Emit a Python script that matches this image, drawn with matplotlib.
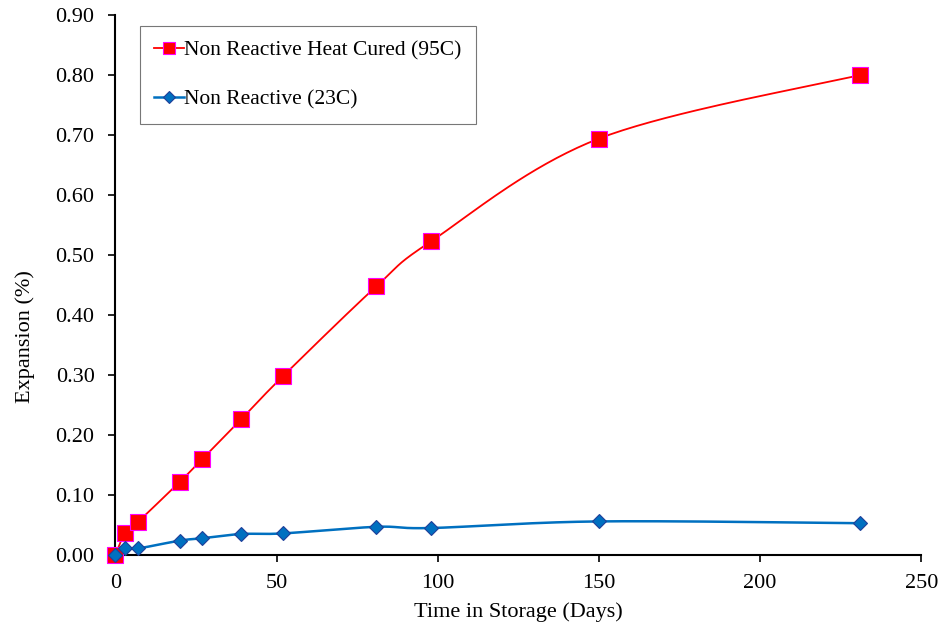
import numpy as np
import matplotlib.pyplot as plt

# data
days = [0, 3, 7, 20, 27, 39, 52, 81, 98, 150, 231]
heat_cured_95c = [0.000, 0.036, 0.055, 0.122, 0.160, 0.226, 0.298, 0.448, 0.523, 0.694, 0.800]
ambient_23c = [0.000, 0.012, 0.011, 0.024, 0.028, 0.035, 0.036, 0.047, 0.045, 0.056, 0.053]

labels = ['Non Reactive Heat Cured (95C)', 'Non Reactive (23C)']


def smooth(x, y, n=40):
    # Catmull-Rom style bezier, similar to a spreadsheet "smoothed line"
    x = np.asarray(x, float)
    y = np.asarray(y, float)
    px = np.concatenate([[x[0]], x, [x[-1]]])
    py = np.concatenate([[y[0]], y, [y[-1]]])
    xs, ys = [], []
    t = np.linspace(0, 1, n)
    for i in range(1, len(px) - 2):
        p0 = np.array([px[i], py[i]])
        p3 = np.array([px[i + 1], py[i + 1]])
        p1 = p0 + (np.array([px[i + 1], py[i + 1]]) - np.array([px[i - 1], py[i - 1]])) / 6
        p2 = p3 - (np.array([px[i + 2], py[i + 2]]) - np.array([px[i], py[i]])) / 6
        b = ((1 - t) ** 3)[:, None] * p0 + (3 * (1 - t) ** 2 * t)[:, None] * p1 \
            + (3 * (1 - t) * t ** 2)[:, None] * p2 + (t ** 3)[:, None] * p3
        xs.extend(b[:, 0])
        ys.extend(b[:, 1])
    return np.array(xs), np.array(ys)


plt.rcParams['font.family'] = 'Liberation Serif'

fig = plt.figure(figsize=(9.4, 6.26), dpi=100)
ax = fig.add_axes([0.1227, 0.1134, 0.8573, 0.8626])

red = '#FF0000'
blue = '#0070C0'

sx, sy = smooth(days, heat_cured_95c)
ax.plot(sx, sy, color=red, lw=1.3, zorder=2, clip_on=False)
ax.plot(days, heat_cured_95c, ls='none', marker='s', ms=11.5, mfc=red,
        mec='#FF00FF', mew=0.8, zorder=3, clip_on=False)

sx, sy = smooth(days, ambient_23c)
ax.plot(sx, sy, color=blue, lw=1.8, zorder=2, clip_on=False)
ax.plot(days, ambient_23c, ls='none', marker='D', ms=7, mfc=blue,
        mec='#1F3F99', mew=0.8, zorder=3, clip_on=False)

# legend proxies (line through marker)
h1, = ax.plot([], [], color=red, lw=1.3, marker='s', ms=9, mfc=red, mec='#FF00FF', mew=0.8)
h2, = ax.plot([], [], color=blue, lw=1.8, marker='D', ms=6.5, mfc=blue, mec='#1F3F99', mew=0.8)
leg = ax.legend([h1, h2], labels, loc='upper left', bbox_to_anchor=(0.031, 0.979),
                fontsize=15.5, frameon=True, fancybox=False, edgecolor='#555555',
                handlelength=1.4, handletextpad=0.0, labelspacing=1.35,
                borderpad=0.65, borderaxespad=0)
leg.get_frame().set_linewidth(0.8)

ax.set_xlim(0, 250)
ax.set_ylim(0, 0.9)
ax.set_xticks(np.arange(0, 251, 50))
ax.set_yticks(np.arange(0, 0.91, 0.1))
ax.yaxis.set_major_formatter(plt.FormatStrFormatter('%.2f'))
ax.tick_params(direction='out', length=5, width=1.2, labelsize=16, colors='black')
ax.tick_params(axis='y', pad=10)
ax.tick_params(axis='x', pad=9)

for side in ['top', 'right']:
    ax.spines[side].set_visible(False)
for side in ['left', 'bottom']:
    ax.spines[side].set_linewidth(1.5)

ax.set_xlabel('Time in Storage (Days)', fontsize=16, labelpad=6)
ax.set_ylabel('Expansion (%)', fontsize=16)
ax.yaxis.set_label_coords(-0.1, 0.404)

fig.savefig('out.png', dpi=100)
